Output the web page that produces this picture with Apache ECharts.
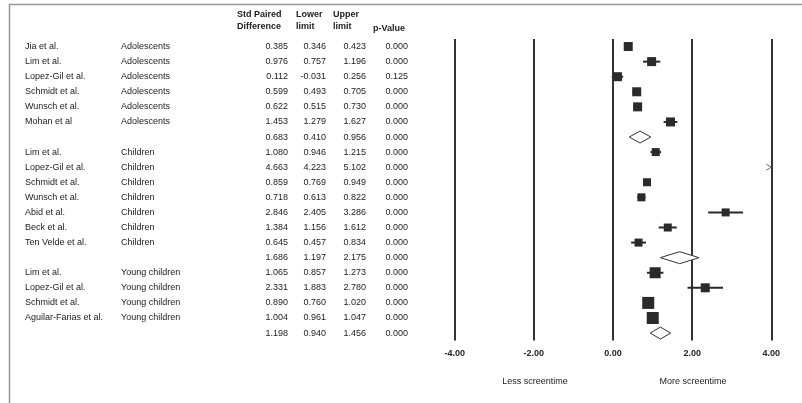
<!DOCTYPE html>
<html><head><meta charset="utf-8">
<script src="https://cdn.jsdelivr.net/npm/echarts@6/dist/echarts.min.js"></script>
<style>html,body{margin:0;padding:0;background:#fff}#c{width:802px;height:403px}</style>
</head><body><div id="c"></div>
<script>
const studies = ['Jia et al.','Lim et al.','Lopez-Gil et al.','Schmidt et al.','Wunsch et al.','Mohan et al','',
  'Lim et al.','Lopez-Gil et al.','Schmidt et al.','Wunsch et al.','Abid et al.','Beck et al.','Ten Velde et al.','',
  'Lim et al.','Lopez-Gil et al.','Schmidt et al.','Aguilar-Farias et al.',''];
const groups = ['Adolescents','Adolescents','Adolescents','Adolescents','Adolescents','Adolescents','',
  'Children','Children','Children','Children','Children','Children','Children','',
  'Young children','Young children','Young children','Young children',''];
const stdDiff = [0.385,0.976,0.112,0.599,0.622,1.453,0.683,1.080,4.663,0.859,0.718,2.846,1.384,0.645,1.686,1.065,2.331,0.890,1.004,1.198];
const lowerLimit = [0.346,0.757,-0.031,0.493,0.515,1.279,0.410,0.946,4.223,0.769,0.613,2.405,1.156,0.457,1.197,0.857,1.883,0.760,0.961,0.940];
const upperLimit = [0.423,1.196,0.256,0.705,0.730,1.627,0.956,1.215,5.102,0.949,0.822,3.286,1.612,0.834,2.175,1.273,2.780,1.020,1.047,1.456];
const pValue = [0.000,0.000,0.125,0.000,0.000,0.000,0.000,0.000,0.000,0.000,0.000,0.000,0.000,0.000,0.000,0.000,0.000,0.000,0.000,0.000];
const isSummary = [0,0,0,0,0,0,1,0,0,0,0,0,0,0,1,0,0,0,0,1];
const weight = [9,9,9,9,9,9,0,8,8,8,8,8,8,8,0,11,9,12,12,0];
const xTicks = [-4,-2,0,2,4];
const headers = [['Std Paired','Difference'],['Lower','limit'],['Upper','limit'],['','p-Value']];
const axisCaptions = ['Less screentime','More screentime'];

const FONT = '"Liberation Sans Narrow","Liberation Sans",Arial,sans-serif';
const rowCats = studies.map((_, i) => String(i));
const TOP = 39, H = 301.6;
const colX = [25, 121, 288, 326, 366, 408];
const colAlign = ['left','left','right','right','right','right'];
const headerX = [237, 296, 333, 373];
const headerY = [[15, 27], [15, 27], [15, 27], [15, 29]];
const captionX = [535, 693];

const chart = echarts.init(document.getElementById('c'), null, {renderer:'canvas'});

const forestData = stdDiff.map((e, i) => [e, lowerLimit[i], upperLimit[i], i]);
const tableData = studies.map((_, i) => [0, i]);

const graphics = [
  {type:'line', shape:{x1:9, y1:4.5, x2:802, y2:4.5}, style:{stroke:'#999', lineWidth:1.5}},
  {type:'line', shape:{x1:9.5, y1:4, x2:9.5, y2:403}, style:{stroke:'#999', lineWidth:1.5}}
];
axisCaptions.forEach((t, k) => {
  graphics.push({type:'text', x:captionX[k], y:382, style:{text:t, font:'9px '+FONT, fill:'#222', textAlign:'center', textVerticalAlign:'middle'}});
});
headers.forEach((h, k) => {
  graphics.push({type:'text', x:headerX[k], y:headerY[k][0], style:{text:h[0], font:'bold 9px '+FONT, fill:'#222', textAlign:'left', textVerticalAlign:'middle'}});
  graphics.push({type:'text', x:headerX[k], y:headerY[k][1], style:{text:h[1], font:'bold 9px '+FONT, fill:'#222', textAlign:'left', textVerticalAlign:'middle'}});
});

const option = {
  animation:false,
  backgroundColor:'#fff',
  grid:[
    {left:454.7, right:30.7, top:TOP, height:H, containLabel:false},
    {left:0, width:420, top:TOP, height:H, containLabel:false}
  ],
  xAxis:[
    {gridIndex:0, type:'value', min:xTicks[0], max:xTicks[xTicks.length-1], interval:2,
     axisLine:{show:false}, axisTick:{show:false},
     axisLabel:{margin:8, fontSize:9, fontFamily:FONT, color:'#222', fontWeight:'bold', formatter:v=>v.toFixed(2)},
     splitLine:{show:true, showMinLine:true, showMaxLine:true, lineStyle:{color:'#333', width:2}}},
    {gridIndex:1, type:'value', min:0, max:420, show:false}
  ],
  yAxis:[
    {gridIndex:0, type:'category', data:rowCats, inverse:true, show:false},
    {gridIndex:1, type:'category', data:rowCats, inverse:true, show:false}
  ],
  graphic:graphics,
  series:[
    {type:'custom', xAxisIndex:0, yAxisIndex:0, clip:false, data:forestData,
     renderItem:(params, api) => {
       const i = api.value(3);
       const est = api.value(0), lo = api.value(1), up = api.value(2);
       const c = api.coord([est, i]);
       const y = c[1];
       const xmax = api.coord([xTicks[xTicks.length-1], i])[0];
       const children = [];
       if (isSummary[i]) {
         const xl = api.coord([lo, i])[0], xu = api.coord([up, i])[0];
         children.push({type:'polygon', shape:{points:[[xl,y],[c[0],y-6],[xu,y],[c[0],y+6]]},
           style:{fill:'#fff', stroke:'#333', lineWidth:1}});
       } else if (est > xTicks[xTicks.length-1]) {
         children.push({type:'polyline', shape:{points:[[xmax-5,y-3],[xmax,y],[xmax-5,y+3]]},
           style:{fill:null, stroke:'#666', lineWidth:1}});
       } else {
         const xl = api.coord([lo, i])[0], xu = api.coord([up, i])[0];
         children.push({type:'line', shape:{x1:xl, y1:y, x2:xu, y2:y}, style:{stroke:'#2a2a2a', lineWidth:2}});
         const s = weight[i];
         children.push({type:'rect', shape:{x:c[0]-s/2, y:y-s/2, width:s, height:s}, style:{fill:'#2a2a2a'}});
       }
       return {type:'group', children};
     }},
    {type:'custom', xAxisIndex:1, yAxisIndex:1, clip:false, data:tableData,
     renderItem:(params, api) => {
       const i = api.value(1);
       const vals = [studies[i], groups[i], stdDiff[i].toFixed(3), lowerLimit[i].toFixed(3), upperLimit[i].toFixed(3), pValue[i].toFixed(3)];
       const children = vals.map((t, k) => {
         const p = api.coord([colX[k], i]);
         return {type:'text', x:p[0], y:p[1], style:{text:t, font:'9px '+FONT, fill:'#222', textAlign:colAlign[k], textVerticalAlign:'middle'}};
       });
       return {type:'group', children};
     }}
  ]
};
chart.setOption(option);
</script></body></html>
